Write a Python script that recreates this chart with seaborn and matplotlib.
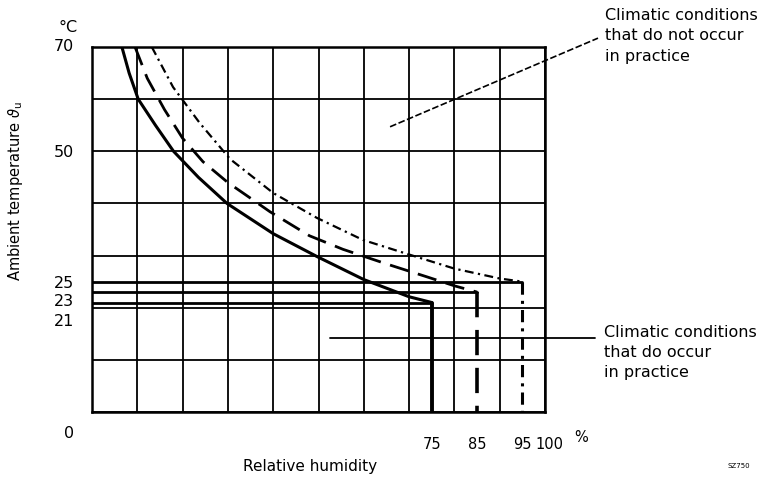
import matplotlib
matplotlib.use("Agg")
import matplotlib.pyplot as plt
import matplotlib.transforms as mtrans
import seaborn as sns
import pandas as pd

# ---------------- data ----------------
grid_rh = [0, 10, 20, 30, 40, 50, 60, 70, 80, 90, 100]
grid_temp = [0, 10, 20, 30, 40, 50, 60, 70]

curve_75_rh = [6.6, 8.2, 10.2, 14.0, 18.0, 23.5, 29.8, 40.0, 49.7, 60.0, 70.0, 75.0]
curve_75_temp = [70, 65, 60, 55, 50, 45, 40, 34.2, 29.8, 25.4, 22.1, 21]
curve_85_rh = [9.5, 12.2, 16.0, 20.0, 24.5, 30.0, 34.5, 39.3, 48.0, 55.4, 65.0, 74.0, 80.0, 85.0]
curve_85_temp = [70, 64, 58, 52.5, 48, 44, 41.3, 38.4, 33.8, 31.2, 28.4, 25.9, 24.2, 23]
curve_95_rh = [13.2, 17.9, 23.8, 30.5, 40.0, 49.7, 59.8, 70.0, 80.0, 90.0, 95.0]
curve_95_temp = [70, 62.3, 55.4, 48.5, 42, 37.2, 33, 30.2, 27.5, 25.6, 25]

limit_rh = [75, 85, 95]
limit_temp = [21, 23, 25]

xtick_values = [75, 85, 95, 100]
xtick_labels = ["75", "85", "95", "100"]
ytick_values = [0, 21, 23, 25, 50, 70]
ytick_labels = ["0", "21", "23", "25", "50", "70"]

label_x = "Relative humidity"
label_y = "Ambient temperature $\\vartheta_\\mathrm{u}$"
note_top = "Climatic conditions\nthat do not occur\nin practice"
note_bottom = "Climatic conditions\nthat do occur\nin practice"

# ---------------- plot ----------------
sns.set_theme(style="white")
plt.rcParams['font.family'] = ['DejaVu Sans']

fig = plt.figure(figsize=(7.62, 4.83), dpi=100)
ax = fig.add_axes([92 / 762, 71 / 483, 453 / 762, 365 / 483])

# grid
for g in grid_rh:
    ax.axvline(g, color="black", lw=1.3, zorder=1)
for g in grid_temp:
    ax.axhline(g, color="black", lw=1.3, zorder=1)

styles = ["-", (0, (7, 3.5)), (0, (4, 2, 1, 2))]
widths = [2.2, 2.0, 1.6]
curves = [(curve_75_rh, curve_75_temp), (curve_85_rh, curve_85_temp),
          (curve_95_rh, curve_95_temp)]

for (rh, t), ls, lw, x_lim, t_lim in zip(curves, styles, widths, limit_rh, limit_temp):
    df = pd.DataFrame({"rh": rh, "temp": t})
    sns.lineplot(data=df, x="rh", y="temp", sort=False, estimator=None,
                 color="black", lw=lw, linestyle=ls, ax=ax, zorder=3)
    # vertical drop to 0
    dv = pd.DataFrame({"rh": [x_lim, x_lim], "temp": [t_lim, 0]})
    sns.lineplot(data=dv, x="rh", y="temp", sort=False, estimator=None,
                 color="black", lw=lw + 0.6, linestyle=ls, ax=ax, zorder=3)
    # horizontal level line from axis to the corner
    dh = pd.DataFrame({"rh": [0, x_lim], "temp": [t_lim, t_lim]})
    sns.lineplot(data=dh, x="rh", y="temp", sort=False, estimator=None,
                 color="black", lw=2.0, ax=ax, zorder=3)

ax.set_xlim(0, 100)
ax.set_ylim(0, 70)
for s in ax.spines.values():
    s.set_color("black")
    s.set_linewidth(1.8)

ax.set_xticks(xtick_values)
ax.set_xticklabels(xtick_labels, fontsize=10.5)
ax.set_yticks(ytick_values)
ax.set_yticklabels(ytick_labels, fontsize=11.5)
ax.tick_params(axis="both", length=0, colors="black")
ax.tick_params(axis="x", pad=18)
ax.tick_params(axis="y", pad=13)

# spread the crowded y tick labels as in the original
shifts = {"0": 0.20, "21": 0.17, "23": 0.08, "25": 0.0, "50": 0.0, "70": -0.02}
for lab in ax.get_yticklabels():
    dy = shifts.get(lab.get_text(), 0.0)
    lab.set_transform(lab.get_transform() +
                      mtrans.ScaledTranslation(0, -dy, fig.dpi_scale_trans))
for lab in ax.get_xticklabels():
    if lab.get_text() == "100":
        lab.set_transform(lab.get_transform() +
                          mtrans.ScaledTranslation(0.04, 0, fig.dpi_scale_trans))

ax.set_xlabel(label_x, fontsize=11, color="black")
ax.set_ylabel(label_y, fontsize=10.5, color="black")
ax.xaxis.set_label_coords(0.481, -0.129)
ax.yaxis.set_label_coords(-0.148, 0.605)

# units
ax.text(-0.032, 73.8, "°C", transform=ax.get_yaxis_transform(),
        ha="right", va="center", fontsize=11.5, color="black")
ax.text(106.5, -4.9, "%", ha="left", va="center", fontsize=10.5,
        color="black", clip_on=False)

# annotations with leader lines
ax.plot([65.8, 111.7], [54.7, 71.7], color="black", lw=1.2,
        linestyle=(0, (4, 1.5)), clip_on=False, zorder=4)
ax.text(113.2, 77.5, note_top, ha="left", va="top", fontsize=11.5,
        linespacing=1.45, color="black", clip_on=False)

ax.plot([52.5, 111.1], [14.2, 14.2], color="black", lw=1.3,
        clip_on=False, zorder=4)
ax.text(113.0, 16.6, note_bottom, ha="left", va="top", fontsize=11.5,
        linespacing=1.4, color="black", clip_on=False)

fig.text(0.985, 0.035, "SZ750", ha="right", va="center", fontsize=5,
         color="black")

fig.savefig("out.png", dpi=100)
